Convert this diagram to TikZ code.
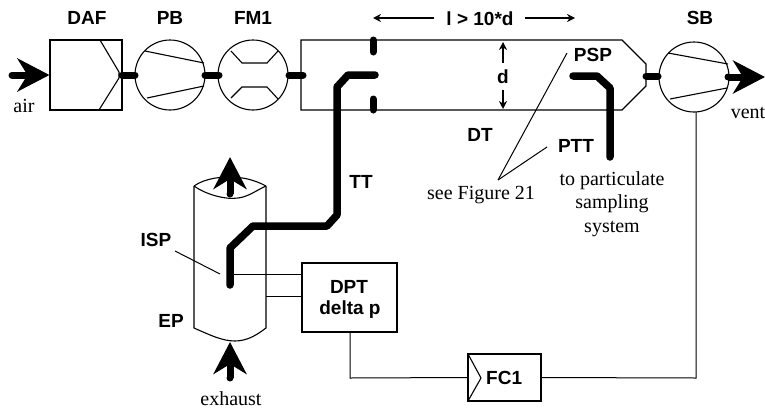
\documentclass[tikz,border=0pt]{standalone}
\usepackage{fontspec}
\setmainfont{Liberation Serif}
\setsansfont{Liberation Sans}
\usetikzlibrary{arrows.meta}
\tikzstyle{Label}=[inner sep=0pt,font=\sffamily\bfseries\fontsize{19}{22}\selectfont]
\tikzstyle{Caption}=[inner sep=0pt,align=center,font=\fontsize{20}{23.5}\selectfont]
\tikzstyle{Thin}=[draw=black,line width=1.1pt,line join=miter]
\tikzstyle{Wire}=[draw=black,line width=1pt]
\tikzstyle{Pipe}=[draw=black,line width=7.5pt,line cap=round,line join=round]
\tikzstyle{Stub}=[draw=black,line width=7pt,line cap=round]
\tikzstyle{Flow}=[draw=black,line width=7pt,-{Stealth[length=32pt,width=33pt,inset=10pt]}]
\tikzstyle{Span}=[draw=black,line width=1.5pt,-{Stealth[length=8pt,width=8pt]}]
\begin{document}
\begin{tikzpicture}[x=1pt,y=-1pt]
        \useasboundingbox(0,0)rectangle(765,410);
        % labels
        \node[Label](DAF)at(87,18){DAF};
        \node[Label](PB)at(170,18){PB};
        \node[Label](FM1)at(253,18){FM1};
        \node[Label](SB)at(700,18){SB};
        \node[Label](len)at(480,19){l > 10*d};
        \node[Label](d)at(503,77){d};
        \node[Label](PSP)at(593,55){PSP};
        \node[Label](DT)at(480,135){DT};
        \node[Label](PTT)at(576,146){PTT};
        \node[Label](TT)at(361,182){TT};
        \node[Label](ISP)at(156,240){ISP};
        \node[Label](EP)at(171,321){EP};
        \node[Label](DPT)at(349,287){DPT};
        \node[Label](delta)at(350,310){delta p};
        \node[Caption](air)at(24,106){air};
        \node[Caption](vent)at(748,113){vent};
        \node[Caption](exhaust)at(231,399){exhaust};
        \node[Caption](see)at(481,195){see Figure 21};
        \node[Caption](sampling)at(612,204){to particulate\\sampling\\system};
        % units
        \node[Thin,rectangle,minimum width=72pt,minimum height=70pt,inner sep=0pt](daf)
            at(86,75){};
        \node[Thin,circle,minimum size=70pt,inner sep=0pt](pb)at(170,75){};
        \node[Thin,circle,minimum size=70pt,inner sep=0pt](fm)at(253,75){};
        \node[Thin,circle,minimum size=70pt,inner sep=0pt](sb)at(694,77){};
        \node[Thin,rectangle,minimum width=95pt,minimum height=69pt,inner sep=0pt](dpt)
            at(349.5,297.5){};
        \node[Thin,rectangle,minimum width=73pt,minimum height=47pt,inner sep=0pt](fc)
            at(504.5,377.5){};
        \node[Label,anchor=west](FC1)at(486,378){FC1};
        % filter and blower insides
        \draw[Thin](100,40)--(119,72)--(119,78)--(99,110);
        \draw[Thin](145,51)--(204,63);
        \draw[Thin](147,98)--(204,86);
        \draw[Thin](231,51)--(242,63)--(267,63)--(278,51);
        \draw[Thin](231,98)--(242,87)--(267,87)--(278,99);
        \draw[Thin](668,53)--(728,64);
        \draw[Thin](670,99)--(727,88);
        \draw[Thin](468,354)--(481,378)--(468,401);
        % tunnel
        \draw[Thin](301,75)--(301,40)--(622,40)--(646,64)--(646,86)--(622,110)
            --(301,110)--cycle;
        \draw[Stub](373,40)--(373,52);
        \draw[Stub](373,99)--(373,110);
        \draw[Stub](122,75)--(135,75);
        \draw[Stub](205,75)--(219,75);
        \draw[Stub](289,75)--(303,75);
        \draw[Stub](646,76)--(658,76);
        % exhaust pipe
        \draw[Thin](194,186)..controls(205,178)and(225,176)..(230,178)
            ..controls(240,176)and(255,180)..(266,186);
        \draw[Thin](194,186)..controls(205,194)and(225,200)..(238,198)
            ..controls(248,197)and(257,190)..(266,186);
        \draw[Thin](194,186)--(194,328)..controls(210,335)and(222,341)..(235,341)
            ..controls(248,341)and(258,334)..(266,328)--(266,186);
        % probes and tubes
        \draw[Pipe](375,75)--(348,75)--(337,87)--(337,215)--(327,226)--(253,226)
            --(230,248)--(230,285);
        \draw[Pipe](573,76)--(597,76)--(610,88)--(610,157);
        % flows
        \coordinate(airS)at(12,75);
        \coordinate(ventS)at(728,77);
        \coordinate(ventE)at(765,77);
        \coordinate(topS)at(230,194);
        \coordinate(topE)at(230,157);
        \coordinate(botS)at(230,378);
        \coordinate(botE)at(230,342);
        \draw[line width=7pt,line cap=round](airS)--(30,75);
        \draw[Flow](18,75)--(daf.west);
        \fill[black](ventS)circle(3.5pt);
        \draw[Flow](ventS)--(ventE);
        \fill[black](topS)circle(3.5pt);
        \draw[Flow](topS)--(topE);
        \fill[black](botS)circle(3.5pt);
        \draw[Flow](botS)--(botE);
        % dimensions
        \draw[Span](len.west)++(-12,-1)--(373,18);
        \draw[Span](len.east)++(11,-1)--(575,18);
        \draw[Span](d.north)++(0,-7)--(503,42);
        \draw[Span](d.south)++(0,6)--(503,109);
        % leaders
        \coordinate(fork)at(498,180);
        \draw[Wire](fork)--(567,53);
        \draw[Wire](fork)--(547,147);
        \draw[Wire](175,251)--(220,274);
        % control wires
        \draw[Wire](233,274)--(dpt.west|-0,274);
        \draw[Wire](266,296)--(dpt.west|-0,296);
        \draw[Wire](350,332)--(350,378)--(fc.west);
        \draw[Wire](fc.east)--(696,378)--(696,112);
    \end{tikzpicture}
\end{document}
